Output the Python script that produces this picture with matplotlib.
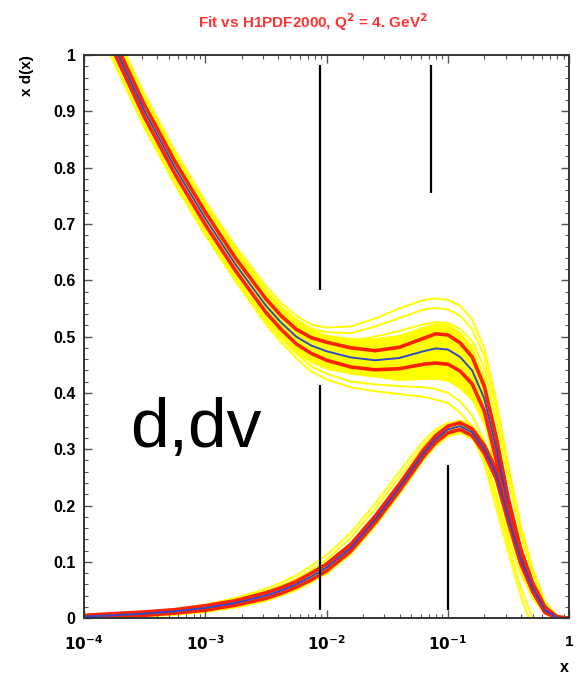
import numpy as np
import matplotlib
matplotlib.use("Agg")
import matplotlib.pyplot as plt
from matplotlib.ticker import FixedLocator, LogLocator, MultipleLocator, NullFormatter

plt.rcParams['font.family'] = ['Liberation Sans', 'DejaVu Sans']

log_x = [-4.0, -3.75, -3.5, -3.25, -3.0, -2.75, -2.5, -2.375, -2.25, -2.125, -2.0, -1.8, -1.6, -1.4,
         -1.2, -1.1, -1.0, -0.9, -0.8, -0.7, -0.6, -0.5, -0.4, -0.3, -0.2, -0.1, 0.0]

# x d(x): central fit, error band half-width, dense replica band, outer replicas
d_central = [1.14, 1.015, 0.90, 0.80, 0.71, 0.628, 0.555, 0.525, 0.50, 0.484, 0.474, 0.463, 0.458, 0.462,
             0.474, 0.479, 0.477, 0.464, 0.440, 0.39, 0.30, 0.195, 0.112, 0.055, 0.016, 0.001, 0.0]
d_err = [0.012, 0.011, 0.011, 0.011, 0.011, 0.011, 0.012, 0.012, 0.013, 0.014, 0.016, 0.017, 0.017, 0.019,
         0.023, 0.026, 0.026, 0.025, 0.024, 0.022, 0.02, 0.016, 0.011, 0.007, 0.004, 0.001, 0.0]
d_yel_up = [0.02, 0.02, 0.022, 0.024, 0.025, 0.027, 0.028, 0.029, 0.03, 0.03, 0.03, 0.035, 0.04, 0.042,
            0.045, 0.046, 0.046, 0.045, 0.044, 0.04, 0.035, 0.025, 0.02, 0.012, 0.006, 0.002, 0.0]
d_yel_dn = [0.02, 0.02, 0.022, 0.024, 0.025, 0.027, 0.028, 0.03, 0.03, 0.031, 0.032, 0.03, 0.03, 0.04,
            0.05, 0.055, 0.057, 0.057, 0.055, 0.05, 0.05, 0.04, 0.03, 0.02, 0.01, 0.001, 0.0]
d_rep_hi1 = [1.17, 1.045, 0.93, 0.83, 0.74, 0.66, 0.59, 0.56, 0.537, 0.521, 0.516, 0.518, 0.532, 0.55,
             0.565, 0.568, 0.565, 0.555, 0.53, 0.48, 0.385, 0.27, 0.165, 0.088, 0.03, 0.003, 0.0]
d_rep_hi2 = [1.165, 1.04, 0.925, 0.825, 0.735, 0.655, 0.583, 0.553, 0.53, 0.514, 0.508, 0.506, 0.518, 0.533,
             0.548, 0.551, 0.548, 0.537, 0.513, 0.465, 0.37, 0.26, 0.158, 0.083, 0.027, 0.003, 0.0]
d_rep_hi3 = [1.16, 1.035, 0.92, 0.82, 0.73, 0.648, 0.575, 0.545, 0.521, 0.505, 0.496, 0.492, 0.5, 0.51,
             0.522, 0.526, 0.524, 0.514, 0.492, 0.445, 0.35, 0.245, 0.148, 0.078, 0.024, 0.002, 0.0]
d_rep_lo1 = [1.11, 0.985, 0.87, 0.77, 0.68, 0.598, 0.522, 0.49, 0.462, 0.438, 0.424, 0.41, 0.403, 0.398,
             0.393, 0.388, 0.382, 0.365, 0.34, 0.295, 0.22, 0.14, 0.08, 0.035, 0.008, 0.0, 0.0]
d_rep_lo2 = [1.115, 0.99, 0.875, 0.775, 0.685, 0.603, 0.527, 0.497, 0.47, 0.447, 0.434, 0.42, 0.415, 0.412,
             0.41, 0.407, 0.40, 0.385, 0.36, 0.315, 0.24, 0.155, 0.09, 0.04, 0.01, 0.0, 0.0]

# x dv(x)
dv_central = [0.003, 0.005, 0.008, 0.012, 0.018, 0.027, 0.040, 0.049, 0.060, 0.074, 0.090, 0.125, 0.175, 0.232,
              0.293, 0.318, 0.335, 0.341, 0.33, 0.30, 0.255, 0.178, 0.105, 0.053, 0.014, 0.001, 0.0]
dv_err = [0.002, 0.003, 0.003, 0.003, 0.004, 0.004, 0.005, 0.005, 0.005, 0.006, 0.006, 0.006, 0.006, 0.006,
          0.006, 0.006, 0.006, 0.006, 0.006, 0.007, 0.008, 0.009, 0.008, 0.006, 0.004, 0.001, 0.0]
dv_yel = [0.004, 0.005, 0.006, 0.007, 0.008, 0.009, 0.01, 0.01, 0.011, 0.011, 0.012, 0.012, 0.013, 0.013,
          0.013, 0.013, 0.013, 0.013, 0.014, 0.016, 0.018, 0.018, 0.015, 0.01, 0.006, 0.002, 0.0]
dv_rep1 = [0.004, 0.006, 0.01, 0.015, 0.024, 0.036, 0.052, 0.063, 0.076, 0.093, 0.112, 0.152, 0.203, 0.26,
           0.315, 0.335, 0.347, 0.345, 0.325, 0.275, 0.195, 0.115, 0.04, -0.02, -0.05, -0.06, -0.06]
dv_rep2 = [0.004, 0.006, 0.009, 0.014, 0.022, 0.033, 0.048, 0.058, 0.07, 0.086, 0.104, 0.143, 0.194, 0.25,
           0.307, 0.33, 0.343, 0.343, 0.327, 0.285, 0.21, 0.13, 0.055, 0.0, -0.03, -0.05, -0.05]

# black marker lines drawn on the plot
mark_x = [0.0089, 0.0089, 0.073, 0.101]
mark_y0 = [0.583, 0.014, 0.755, 0.014]
mark_y1 = [0.982, 0.414, 0.982, 0.272]

x_ticks = [1e-4, 1e-3, 1e-2, 1e-1, 1]
x_labels = [r'$\mathbf{10^{-4}}$', r'$\mathbf{10^{-3}}$', r'$\mathbf{10^{-2}}$', r'$\mathbf{10^{-1}}$', '1']
y_ticks = [0, 0.1, 0.2, 0.3, 0.4, 0.5, 0.6, 0.7, 0.8, 0.9, 1]
y_labels = ['0', '0.1', '0.2', '0.3', '0.4', '0.5', '0.6', '0.7', '0.8', '0.9', '1']

YEL = '#ffff00'
RED = '#ff2200'
BLUE = '#3348c8'

x = 10 ** np.array(log_x)

fig = plt.figure(figsize=(5.79, 6.8), dpi=100)
ax = fig.add_axes([0.145, 0.091, 0.838, 0.828])

for c, up, dn, reps in [(d_central, d_yel_up, d_yel_dn, [d_rep_hi1, d_rep_hi2, d_rep_hi3, d_rep_lo1, d_rep_lo2]),
                        (dv_central, dv_yel, dv_yel, [dv_rep1, dv_rep2])]:
    c = np.array(c)
    ax.fill_between(x, c - np.array(dn), c + np.array(up), color=YEL, lw=0)
    for r in reps:
        ax.plot(x, r, color=YEL, lw=1.4)

for c, e in [(d_central, d_err), (dv_central, dv_err)]:
    c = np.array(c)
    e = np.array(e)
    ax.fill_between(x, c - e, c + e, color=YEL, lw=0)
    ax.plot(x, c + e, color=RED, lw=2.6, solid_joinstyle='round')
    ax.plot(x, c - e, color=RED, lw=2.6, solid_joinstyle='round')
    ax.plot(x, c, color=BLUE, lw=1.4)

ax.vlines(mark_x, mark_y0, mark_y1, color='black', lw=1.6)

ax.set_xscale('log')
ax.set_xlim(1e-4, 1)
ax.set_ylim(0, 1)

ax.xaxis.set_major_locator(FixedLocator(x_ticks))
ax.set_xticklabels(x_labels, fontsize=11, fontweight='bold')
ax.xaxis.set_minor_locator(LogLocator(base=10, subs=np.arange(2, 10)))
ax.xaxis.set_minor_formatter(NullFormatter())
ax.yaxis.set_major_locator(FixedLocator(y_ticks))
ax.set_yticklabels(y_labels, fontsize=11.5, fontweight='bold')
ax.yaxis.set_minor_locator(MultipleLocator(0.02))

ax.tick_params(which='both', direction='in', top=True, right=True, color='#555555')
ax.tick_params(which='major', length=6, width=1)
ax.tick_params(which='minor', length=3, width=0.8)
ax.tick_params(axis='y', pad=6)
ax.tick_params(axis='x', pad=12)
for s in ax.spines.values():
    s.set_linewidth(1.4)
    s.set_color('#333333')

fig.text(0.047, 0.919, 'x d(x)', rotation=90, ha='center', va='top', fontsize=11, fontweight='bold')
fig.text(0.983, 0.018, 'x', ha='right', va='center', fontsize=11.5, fontweight='bold')
fig.text(0.54, 0.968, r'Fit vs H1PDF2000, Q$^\mathbf{2}$ = 4. GeV$^\mathbf{2}$', ha='center', va='center',
         fontsize=11, fontweight='bold', color='#ff3333')
fig.text(0.224, 1 - 447 / 680, 'd,dv', ha='left', va='baseline', fontsize=50, color='black')

fig.savefig('out.png', dpi=100, facecolor='white')
